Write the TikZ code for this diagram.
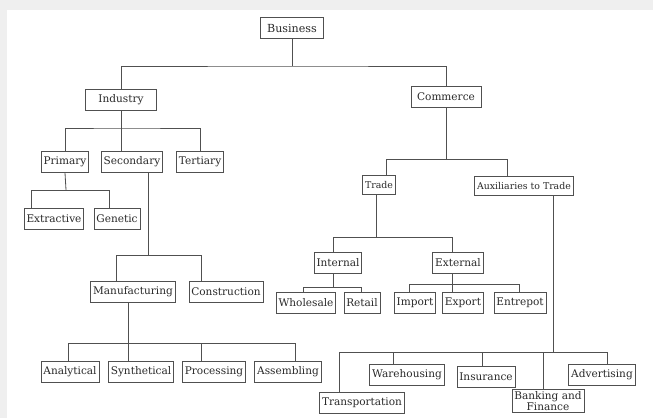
\documentclass[tikz,border=0pt]{standalone}
\usepackage{fontspec}
\setmainfont{DejaVu Serif}
\usepackage{tikz}
\usetikzlibrary{positioning, calc}
\definecolor{framegray}{HTML}{EFEFEF}
\definecolor{linegray}{HTML}{505050}
\definecolor{textgray}{HTML}{2A2A2A}

\begin{document}
\begin{tikzpicture}[x=0.03cm, y=-0.03cm,
    box/.style={draw=linegray, line width=0.7pt, fill=white, text=textgray,
      font=\fontsize{9}{10}\selectfont, inner xsep=2pt, inner ysep=1pt,
      minimum height=0.62cm},
    smallbox/.style={box, font=\fontsize{8}{9}\selectfont, minimum height=0.55cm},
    link/.style={draw=linegray, line width=0.7pt}]
        % ── PAGE ───────────────────────────────────
        \fill[framegray] (0,0) rectangle (653,418);
        \fill[white] (7,10) rectangle (653,418);

        % ── TOP LEVELS ─────────────────────────────
        \node[box, minimum width=1.89cm, font=\fontsize{9.5}{10}\selectfont]
          (business) at (292,28) {Business};
        \node[box, minimum width=2.13cm] (industry) at (121,100) {Industry};
        \node[box, minimum width=2.1cm] (commerce) at (446,97) {Commerce};
        \coordinate (b1) at (292,66);
        \draw[link] (business.south) -- (b1);
        \draw[link] (industry.north) |- (b1) -| (commerce.north);

        % ── INDUSTRY ───────────────────────────────
        \node[box] (primary) at (65,162) {Primary};
        \node[box] (secondary) at (132,162) {Secondary};
        \node[box] (tertiary) at (200,162) {Tertiary};
        \coordinate (b2) at (121,128);
        \draw[link] (industry.south) -- (industry |- secondary.north);
        \draw[link] (primary.north) |- (b2) -| (tertiary.north);

        \node[box] (extractive) at (54,219) {Extractive};
        \node[box] (genetic) at (117,219) {Genetic};
        \coordinate (b3) at (66,190);
        \draw[link] (primary.south) -- (b3);
        \foreach \c/\dx in {extractive/-23, genetic/-8}
          \draw[link] ($(\c.north)+(\dx,0)$) |- (b3);

        \node[box] (manufacturing) at (133,292) {Manufacturing};
        \node[box] (construction) at (226,292) {Construction};
        \coordinate (b4) at (148,255);
        \draw[link] ($(secondary.south)+(16,0)$) -- (b4);
        \foreach \c/\dx in {manufacturing/-17, construction/-25}
          \draw[link] ($(\c.north)+(\dx,0)$) |- (b4);

        \node[box] (analytical) at (70,372) {Analytical};
        \node[box] (synthetical) at (141,372) {Synthetical};
        \node[box] (processing) at (214,372) {Processing};
        \node[box] (assembling) at (288,372) {Assembling};
        \coordinate (b5) at (128,343);
        \draw[link] ($(manufacturing.south)+(-5,0)$) -- (b5);
        \foreach \c/\dx in {analytical/-2, synthetical/-13, processing/-13, assembling/7}
          \draw[link] ($(\c.north)+(\dx,0)$) |- (b5);

        % ── COMMERCE ───────────────────────────────
        \node[smallbox] (trade) at (379,185) {Trade};
        \node[smallbox] (auxiliaries) at (524,186) {Auxiliaries to Trade};
        \coordinate (b6) at (446,159);
        \draw[link] (commerce.south) -- (b6);
        \draw[link] ($(trade.north)+(7,0)$) |- (b6);
        \draw[link] ($(auxiliaries.north)+(-17,0)$) |- (b6);

        \node[box] (internal) at (338,263) {Internal};
        \node[box] (external) at (458,263) {External};
        \coordinate (b7) at (376,237);
        \draw[link] ($(trade.south)+(-3,0)$) -- (b7);
        \foreach \c/\dx in {internal/-5, external/-6}
          \draw[link] ($(\c.north)+(\dx,0)$) |- (b7);

        \node[box] (wholesale) at (306,303) {Wholesale};
        \node[box] (retail) at (362,303) {Retail};
        \coordinate (b8) at (333,287);
        \draw[link] ($(internal.south)+(-5,0)$) -- (b8);
        \foreach \c/\dx in {wholesale/-3, retail/-1}
          \draw[link] ($(\c.north)+(\dx,0)$) |- (b8);

        \node[box] (import) at (415,303) {Import};
        \node[box] (export) at (463,303) {Export};
        \node[box] (entrepot) at (520,303) {Entrepot};
        \coordinate (b9) at (452,284);
        \draw[link] ($(external.south)+(-6,0)$) -- (b9);
        \foreach \c/\dx in {import/-6, export/-11, entrepot/-1}
          \draw[link] ($(\c.north)+(\dx,0)$) |- (b9);

        % ── AUXILIARIES ────────────────────────────
        \node[box] (transport) at (362,403) {Transportation};
        \node[box] (warehousing) at (407,375) {Warehousing};
        \node[box] (insurance) at (486,377) {Insurance};
        \node[box, align=center, inner ysep=1.5pt, font=\fontsize{9}{9.5}\selectfont]
          (banking) at (548,401) {Banking and\\Finance};
        \node[box] (advertising) at (602,375) {Advertising};
        \coordinate (b10) at (553,352);
        \draw[link] ($(auxiliaries.south)+(29,0)$) -- (b10);
        \foreach \c/\dx in {transport/-23, warehousing/-14, insurance/-4,
                            banking/-5, advertising/5}
          \draw[link] ($(\c.north)+(\dx,0)$) |- (b10);
\end{tikzpicture}
\end{document}
